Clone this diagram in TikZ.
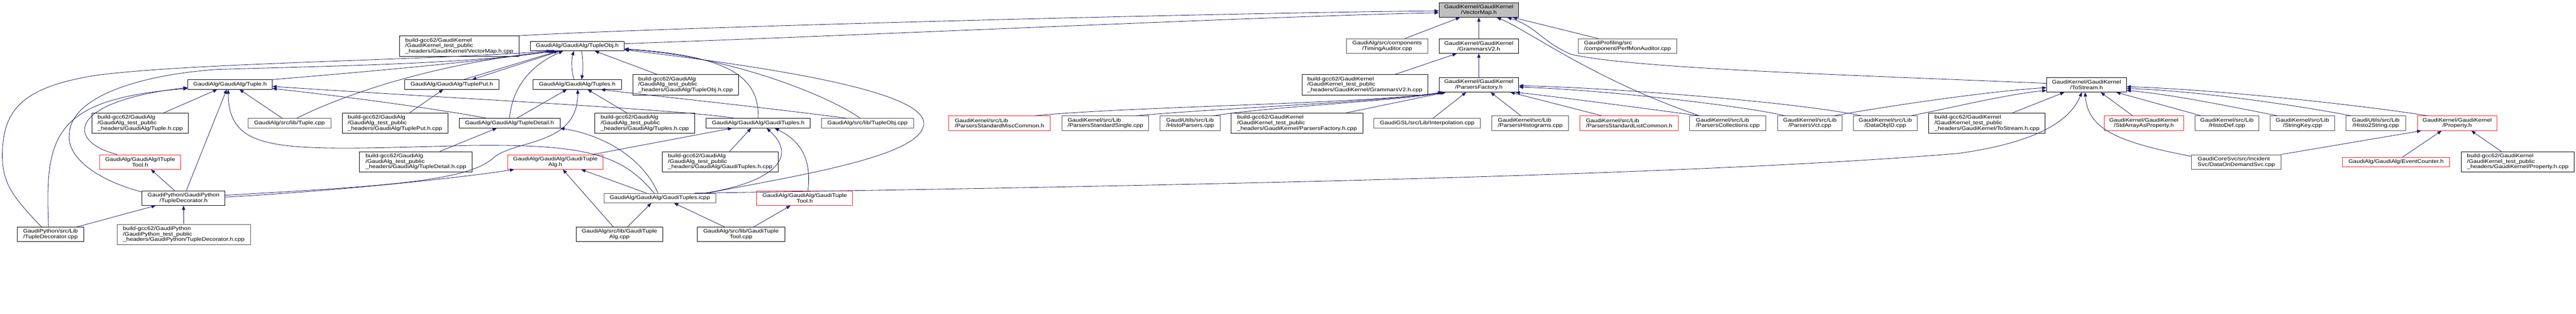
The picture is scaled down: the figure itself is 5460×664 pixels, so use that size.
\documentclass[tikz,border=0pt]{standalone}
\usepackage{fontspec}
\newfontfamily\graphfont{Liberation Sans}[FakeStretch=1.17]
\usepackage{tikz}
\usetikzlibrary{arrows.meta}
\usepackage{xcolor}
\definecolor{edgeblue}{HTML}{191970}
\definecolor{rootgray}{HTML}{BFBFBF}
\definecolor{boxred}{HTML}{FF2020}
\definecolor{boxgray}{HTML}{505050}

\begin{document}
\begin{tikzpicture}[
        x=1pt, y=-1pt,
        file/.style={
            rectangle,
            draw=black,
            fill=white,
            line width=0.9pt,
            inner sep=1pt,
            align=center,
            font=\graphfont\fontsize{11}{11.6}\selectfont
        },
        leftfile/.style={file, align=left},
        rootfile/.style={file, fill=rootgray},
        redfile/.style={draw=boxred},
        grayfile/.style={draw=boxgray},
        one/.style={minimum height=20},
        two/.style={minimum height=31},
        three/.style={minimum height=43},
        inc/.style={
            draw=edgeblue,
            line width=0.9pt,
            -{Triangle[length=9pt, width=7pt]}
        }
    ]
    \useasboundingbox (0,0) rectangle (5460,664);

    % Root
    \node[rootfile, two, minimum width=169] (vmap) at (3134.5,21) {GaudiKernel/GaudiKernel\\/VectorMap.h};

    % First row
    \node[leftfile, three, minimum width=253] (vmapcpp) at (973.5,97.5) {build-gcc62/GaudiKernel\\/GaudiKernel\_test\_public\\\_headers/GaudiKernel/VectorMap.h.cpp};
    \node[file, one, minimum width=199] (tupleobj) at (1223.5,97.5) {GaudiAlg/GaudiAlg/TupleObj.h};
    \node[file, grayfile, two, minimum width=172] (timing) at (2940,97.5) {GaudiAlg/src/components\\/TimingAuditor.cpp};
    \node[file, two, minimum width=169] (grammars) at (3134.5,97.5) {GaudiKernel/GaudiKernel\\/GrammarsV2.h};
    \node[leftfile, grayfile, two, minimum width=209] (perfmon) at (3449.5,97.5) {GaudiProfiling/src\\/component/PerfMonAuditor.cpp};

    % Second row
    \node[file, one, minimum width=179] (tuple) at (487.5,179) {GaudiAlg/GaudiAlg/Tuple.h};
    \node[file, one, minimum width=199] (tupleput) at (957.5,179) {GaudiAlg/GaudiAlg/TuplePut.h};
    \node[file, one, minimum width=187] (tuples) at (1223.5,179) {GaudiAlg/GaudiAlg/Tuples.h};
    \node[leftfile, three, minimum width=224] (tupleobjcpp) at (1453,179.5) {build-gcc62/GaudiAlg\\/GaudiAlg\_test\_public\\\_headers/GaudiAlg/TupleObj.h.cpp};
    \node[leftfile, three, minimum width=266] (grammarscpp) at (2893,179.5) {build-gcc62/GaudiKernel\\/GaudiKernel\_test\_public\\\_headers/GaudiKernel/GrammarsV2.h.cpp};
    \node[file, two, minimum width=169] (factory) at (3134.5,179.5) {GaudiKernel/GaudiKernel\\/ParsersFactory.h};
    \node[file, two, minimum width=169] (tostream) at (4422.5,179.5) {GaudiKernel/GaudiKernel\\/ToStream.h};

    % Third row
    \node[leftfile, three, minimum width=204] (tuplehcpp) at (297,261) {build-gcc62/GaudiAlg\\/GaudiAlg\_test\_public\\\_headers/GaudiAlg/Tuple.h.cpp};
    \node[file, grayfile, one, minimum width=175] (tuplecpp) at (613.5,261) {GaudiAlg/src/lib/Tuple.cpp};
    \node[leftfile, three, minimum width=224] (tupleputcpp) at (837,261) {build-gcc62/GaudiAlg\\/GaudiAlg\_test\_public\\\_headers/GaudiAlg/TuplePut.h.cpp};
    \node[file, one, minimum width=214] (detail) at (1080,261) {GaudiAlg/GaudiAlg/TupleDetail.h};
    \node[leftfile, three, minimum width=211] (tuplescpp) at (1366.5,261) {build-gcc62/GaudiAlg\\/GaudiAlg\_test\_public\\\_headers/GaudiAlg/Tuples.h.cpp};
    \node[file, one, minimum width=220] (gtuples) at (1607,261) {GaudiAlg/GaudiAlg/GaudiTuples.h};
    \node[file, grayfile, one, minimum width=195] (objcpp) at (1838.5,261) {GaudiAlg/src/lib/TupleObj.cpp};
    \node[leftfile, redfile, two, minimum width=215] (misc) at (2118.5,261) {GaudiKernel/src/Lib\\/ParsersStandardMiscCommon.h};
    \node[leftfile, grayfile, two, minimum width=184] (single) at (2343,261) {GaudiKernel/src/Lib\\/ParsersStandardSingle.cpp};
    \node[leftfile, grayfile, two, minimum width=127] (histopars) at (2522.5,261) {GaudiUtils/src/Lib\\/HistoParsers.cpp};
    \node[leftfile, three, minimum width=280] (factorycpp) at (2749,261) {build-gcc62/GaudiKernel\\/GaudiKernel\_test\_public\\\_headers/GaudiKernel/ParsersFactory.h.cpp};
    \node[file, grayfile, one, minimum width=226] (interp) at (3025,261) {GaudiGSL/src/Lib/Interpolation.cpp};
    \node[leftfile, grayfile, two, minimum width=163] (histograms) at (3243.5,261) {GaudiKernel/src/Lib\\/ParsersHistograms.cpp};
    \node[leftfile, redfile, two, minimum width=208] (listcommon) at (3453,261) {GaudiKernel/src/Lib\\/ParsersStandardListCommon.h};
    \node[leftfile, grayfile, two, minimum width=162] (collections) at (3662,261) {GaudiKernel/src/Lib\\/ParsersCollections.cpp};
    \node[file, grayfile, two, minimum width=136] (vct) at (3836,261) {GaudiKernel/src/Lib\\/ParsersVct.cpp};
    \node[file, grayfile, two, minimum width=136] (dataobjid) at (3996,261) {GaudiKernel/src/Lib\\/DataObjID.cpp};
    \node[leftfile, three, minimum width=247] (tostreamcpp) at (4211.5,261) {build-gcc62/GaudiKernel\\/GaudiKernel\_test\_public\\\_headers/GaudiKernel/ToStream.h.cpp};
    \node[file, redfile, two, minimum width=168] (stdarray) at (4544,261) {GaudiKernel/GaudiKernel\\/StdArrayAsProperty.h};
    \node[file, grayfile, two, minimum width=136] (histodef) at (4720,261) {GaudiKernel/src/Lib\\/HistoDef.cpp};
    \node[file, grayfile, two, minimum width=136] (stringkey) at (4880,261) {GaudiKernel/src/Lib\\/StringKey.cpp};
    \node[file, grayfile, two, minimum width=127] (histo2str) at (5035.5,261) {GaudiUtils/src/Lib\\/Histo2String.cpp};
    \node[file, redfile, two, minimum width=168] (property) at (5208,261) {GaudiKernel/GaudiKernel\\/Property.h};

    % Fourth row
    \node[file, redfile, two, minimum width=172] (ituple) at (297,343) {GaudiAlg/GaudiAlg/ITuple\\Tool.h};
    \node[leftfile, three, minimum width=239] (detailcpp) at (881.5,342.5) {build-gcc62/GaudiAlg\\/GaudiAlg\_test\_public\\\_headers/GaudiAlg/TupleDetail.h.cpp};
    \node[file, redfile, two, minimum width=202] (gtalg) at (1177,343) {GaudiAlg/GaudiAlg/GaudiTuple\\Alg.h};
    \node[leftfile, three, minimum width=245] (gtuplescpp) at (1526.5,342.5) {build-gcc62/GaudiAlg\\/GaudiAlg\_test\_public\\\_headers/GaudiAlg/GaudiTuples.h.cpp};
    \node[leftfile, grayfile, two, minimum width=190] (ondemand) at (4740,343) {GaudiCoreSvc/src/Incident\\Svc/DataOnDemandSvc.cpp};
    \node[file, redfile, one, minimum width=227] (evcounter) at (5078.5,343) {GaudiAlg/GaudiAlg/EventCounter.h};
    \node[leftfile, three, minimum width=239] (propertycpp) at (5336.5,342.5) {build-gcc62/GaudiKernel\\/GaudiKernel\_test\_public\\\_headers/GaudiKernel/Property.h.cpp};

    % Fifth row
    \node[file, two, minimum width=176] (decor) at (389,419.5) {GaudiPython/GaudiPython\\/TupleDecorator.h};
    \node[file, grayfile, one, minimum width=237] (icpp) at (1398.5,419.5) {GaudiAlg/GaudiAlg/GaudiTuples.icpp};
    \node[file, redfile, two, minimum width=203] (gttool) at (1705.5,419.5) {GaudiAlg/GaudiAlg/GaudiTuple\\Tool.h};

    % Sixth row
    \node[file, two, minimum width=140] (decorcpp) at (107,496.5) {GaudiPython/src/Lib\\/TupleDecorator.cpp};
    \node[leftfile, grayfile, three, minimum width=283] (decorhcpp) at (389.5,496.5) {build-gcc62/GaudiPython\\/GaudiPython\_test\_public\\\_headers/GaudiPython/TupleDecorator.h.cpp};
    \node[file, two, minimum width=184] (gtalgcpp) at (1313,496.5) {GaudiAlg/src/lib/GaudiTuple\\Alg.cpp};
    \node[file, two, minimum width=185] (gttoolcpp) at (1570.5,496.5) {GaudiAlg/src/lib/GaudiTuple\\Tool.cpp};

    % Arrows into VectorMap.h
    \draw[inc] (vmapcpp.north east) .. controls (1400,58) and (2600,27) .. ([yshift=-2pt]vmap.west);
    \draw[inc] ([yshift=5pt]tupleobj.east) .. controls (1900,72) and (2700,34) .. ([yshift=-6pt]vmap.west);
    \draw[inc] ([xshift=38pt]timing.north) -- ([xshift=-40pt]vmap.south);
    \draw[inc] (grammars.north) -- (vmap.south);
    \draw[inc] ([xshift=-62pt]perfmon.north) -- ([xshift=72pt]vmap.south);
    \draw[inc] ([xshift=-60pt]collections.north) .. controls (3380,170) and (3240,65) .. ([xshift=38pt]vmap.south);
    \draw[inc] ([yshift=3pt]tostream.west) .. controls (3900,158) and (3460,145) .. (3330,115) .. controls (3270,90) and (3255,55) .. ([xshift=60pt]vmap.south);

    % Arrows into TupleObj.h
    \draw[inc] ([xshift=-19pt]decorcpp.north) .. controls (30,420) and (5,390) .. (5,330) .. controls (5,230) and (50,185) .. (200,160) .. controls (400,133) and (900,128) .. ([xshift=-56pt]tupleobj.south);
    \draw[inc] ([yshift=-3pt]decor.north west) .. controls (200,380) and (140,330) .. (147,283) .. controls (150,210) and (280,160) .. (460,147) .. controls (700,140) and (1000,135) .. ([xshift=-52pt]tupleobj.south);
    \draw[inc] (tuple.north east) .. controls (800,150) and (1000,132) .. ([xshift=-48pt]tupleobj.south);
    \draw[inc] ([xshift=15pt]tuplecpp.north) .. controls (750,190) and (950,130) .. ([xshift=-44pt]tupleobj.south);
    \draw[inc] ([xshift=25pt]tupleput.north) -- ([xshift=-40pt]tupleobj.south);
    \draw[inc] ([xshift=-36pt]tupleobj.south) -- ([xshift=43pt]tupleput.north);
    \draw[inc] (detail.north) .. controls (1085,190) and (1120,140) .. ([xshift=-30pt]tupleobj.south);
    \draw[inc] ([xshift=-7pt]tuples.north) .. controls (1211,150) and (1211,125) .. ([xshift=-7pt]tupleobj.south);
    \draw[inc] ([xshift=9pt]tupleobj.south) .. controls (1236,125) and (1236,150) .. ([xshift=9pt]tuples.north);
    \draw[inc] ([xshift=-60pt]tupleobjcpp.north) -- ([xshift=37pt]tupleobj.south);
    \draw[inc] (gtuples.north) .. controls (1610,160) and (1540,118) .. ([yshift=-6pt]tupleobj.east);
    \draw[inc] ([xshift=-15pt]objcpp.north) .. controls (1760,205) and (1550,118) .. ([yshift=-7pt]tupleobj.east);
    \draw[inc] ([xshift=100pt]icpp.north) .. controls (1700,370) and (1958,330) .. (1958,261) .. controls (1958,200) and (1700,150) .. ([yshift=-8pt]tupleobj.east);

    % Arrows into Tuple.h
    \draw[inc] ([xshift=-4pt]decorcpp.north) .. controls (95,290) and (110,210) .. ([yshift=2pt]tuple.south west);
    \draw[inc] ([xshift=-49pt]ituple.north) .. controls (140,300) and (140,215) .. ([yshift=4pt]tuple.south west);
    \draw[inc] ([xshift=50pt]tuplehcpp.north) -- ([xshift=-27pt]tuple.south);
    \draw[inc] ([xshift=6pt]decor.north) -- ([xshift=-7pt]tuple.south);
    \draw[inc] ([xshift=-15pt]tuplecpp.north) -- ([xshift=20pt]tuple.south);
    \draw[inc] ([xshift=-48pt]detail.north) .. controls (980,240) and (800,212) .. ([yshift=2pt]tuple.south east);
    \draw[inc] ([xshift=-49pt]gtuples.north) .. controls (1450,232) and (900,205) .. ([yshift=-4pt]tuple.east);
    \draw[inc] ([xshift=-12pt]icpp.north) .. controls (1320,330) and (1250,305) .. (1000,308) .. controls (600,318) and (485,330) .. ([xshift=-4pt]tuple.south);

    % Arrows into Tuples.h
    \draw[inc] ([xshift=15pt]detail.north) -- ([xshift=-22pt]tuples.south);
    \draw[inc] ([yshift=6pt]decor.east) .. controls (800,395) and (990,385) .. (1045,335) .. controls (1090,295) and (1225,310) .. ([xshift=1pt]tuples.south);
    \draw[inc] ([xshift=-38pt]tuplescpp.north) -- ([xshift=22pt]tuples.south);
    \draw[inc] ([xshift=-43pt]objcpp.north) .. controls (1600,225) and (1400,205) .. ([xshift=50pt]tuples.south);

    % Arrows into TuplePut.h, TupleDetail.h, ITupleTool.h, TupleDecorator.h
    \draw[inc] ([xshift=31pt]tupleputcpp.north) -- ([xshift=-18pt]tupleput.south);
    \draw[inc] ([xshift=51pt]detailcpp.north) -- ([xshift=-27pt]detail.south);
    \draw[inc] ([xshift=-4pt]icpp.north) .. controls (1370,350) and (1300,290) .. (detail.south east);
    \draw[inc] ([xshift=-19pt]decor.north) -- ([xshift=23pt]ituple.south);
    \draw[inc] ([xshift=56pt]decorcpp.north) -- ([xshift=-59pt]decor.south);
    \draw[inc] (decorhcpp.north) -- (decor.south);

    % Arrows into GaudiTupleAlg.h and GaudiTuples.h
    \draw[inc] ([yshift=2pt]decor.east) .. controls (700,405) and (950,380) .. ([xshift=-87pt]gtalg.south);
    \draw[inc] ([xshift=-28pt]icpp.north) -- ([xshift=55pt]gtalg.south);
    \draw[inc] ([xshift=-13pt]gtalgcpp.north) -- ([xshift=16pt]gtalg.south);
    \draw[inc] ([xshift=80pt]gtalg.north) -- ([xshift=-55pt]gtuples.south);
    \draw[inc] ([xshift=20pt]gtuplescpp.north) -- ([xshift=-15pt]gtuples.south);
    \draw[inc] ([xshift=94pt]icpp.north) .. controls (1620,390) and (1700,340) .. ([xshift=18pt]gtuples.south);
    \draw[inc] ([xshift=7pt]gttool.north) .. controls (1720,340) and (1700,300) .. ([xshift=35pt]gtuples.south);

    % Arrows into GaudiTuples.icpp and GaudiTupleTool.h
    \draw[inc] ([xshift=17pt]gtalgcpp.north) -- ([xshift=-18pt]icpp.south);
    \draw[inc] ([xshift=-35pt]gttoolcpp.north) -- ([xshift=30pt]icpp.south);
    \draw[inc] ([xshift=27pt]gttoolcpp.north) -- ([xshift=-30pt]gttool.south);

    % Arrows into ParsersFactory.h and GrammarsV2.h
    \draw[inc] ([xshift=104pt]factorycpp.north) -- ([xshift=-70pt]factory.south);
    \draw[inc] ([xshift=75pt]misc.north) .. controls (2400,225) and (2900,220) .. ([xshift=-78pt]factory.south);
    \draw[inc] ([xshift=65pt]single.north) .. controls (2600,228) and (2900,218) .. ([xshift=-75pt]factory.south);
    \draw[inc] ([xshift=50pt]histopars.north) .. controls (2700,225) and (2950,215) .. ([xshift=-73pt]factory.south);
    \draw[inc] ([xshift=12pt]interp.north) -- ([xshift=-27pt]factory.south);
    \draw[inc] ([xshift=-20pt]histograms.north) -- ([xshift=25pt]factory.south);
    \draw[inc] ([xshift=-58pt]listcommon.north) -- ([xshift=67pt]factory.south);
    \draw[inc] ([xshift=-60pt]collections.north) .. controls (3450,225) and (3300,205) .. ([xshift=78pt]factory.south);
    \draw[inc] ([xshift=-51pt]dataobjid.north) .. controls (3800,215) and (3400,185) .. ([yshift=-2pt]factory.east);
    \draw[inc] ([xshift=-53pt]vct.north) .. controls (3700,225) and (3400,190) .. ([yshift=-5pt]factory.east);
    \draw[inc] (factory.north) -- (grammars.south);
    \draw[inc] ([xshift=64pt]grammarscpp.north) -- ([xshift=-47pt]grammars.south);

    % Arrows into ToStream.h
    \draw[inc] ([xshift=74pt]icpp.north) .. controls (2600,392) and (3600,370) .. (4150,325) .. controls (4330,300) and (4390,250) .. ([xshift=-10pt]tostream.south);
    \draw[inc] ([xshift=51pt]vct.north) .. controls (4000,225) and (4200,195) .. ([yshift=-6pt]tostream.west);
    \draw[inc] ([xshift=54pt]dataobjid.north) .. controls (4120,232) and (4250,200) .. ([yshift=-12pt]tostream.west);
    \draw[inc] ([xshift=54pt]tostreamcpp.north) -- ([xshift=-47pt]tostream.south);
    \draw[inc] ([yshift=-4pt]ondemand.north west) .. controls (4480,300) and (4425,270) .. ([xshift=-3pt]tostream.south);
    \draw[inc] ([xshift=-24pt]stdarray.north) -- ([xshift=30pt]tostream.south);
    \draw[inc] ([xshift=-55pt]histodef.north) -- ([xshift=63pt]tostream.south);
    \draw[inc] ([xshift=-53pt]stringkey.north) .. controls (4700,220) and (4600,200) .. ([yshift=-12pt]tostream.east);
    \draw[inc] ([xshift=-52pt]histo2str.north) .. controls (4850,220) and (4650,192) .. ([yshift=-8pt]tostream.east);
    \draw[inc] ([xshift=-63pt]property.north) .. controls (5000,222) and (4700,190) .. ([yshift=-4pt]tostream.east);

    % Arrows into Property.h
    \draw[inc] (ondemand.north east) -- ([xshift=-76pt]property.south);
    \draw[inc] ([xshift=14pt]evcounter.north) -- ([xshift=-33pt]property.south);
    \draw[inc] ([xshift=-35pt]propertycpp.north) -- ([xshift=30pt]property.south);

\end{tikzpicture}
\end{document}
